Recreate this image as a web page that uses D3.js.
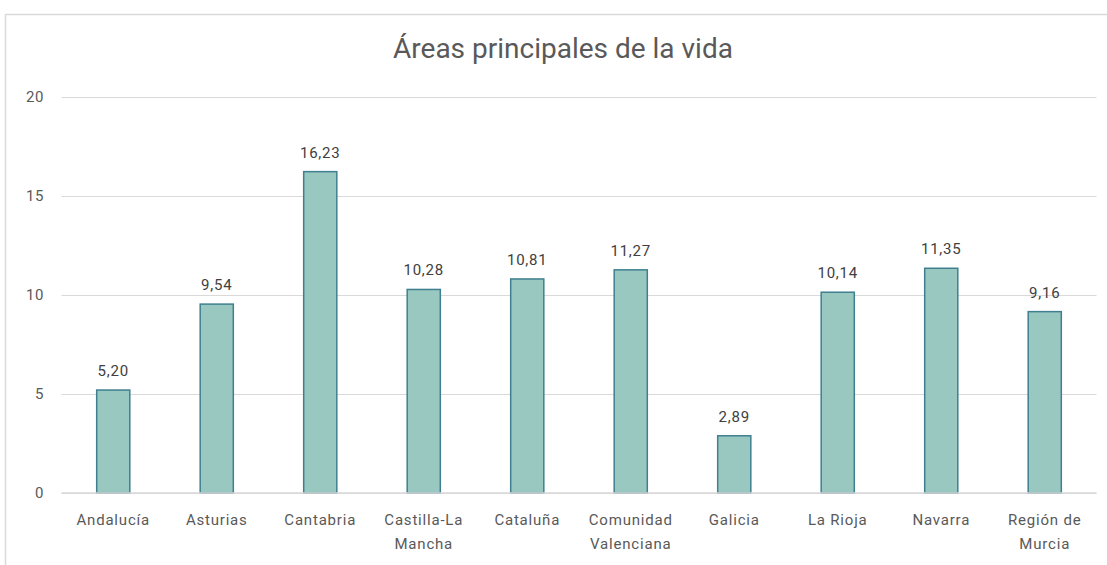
<!DOCTYPE html>
<html><head><meta charset="utf-8">
<script src="https://cdn.jsdelivr.net/npm/d3@7"></script>
<style>
body{margin:0;background:#fff;}
svg{display:block;}
.title{font-family:"Roboto","Liberation Sans",sans-serif;}
.lbl{font-family:"Roboto","Liberation Sans",sans-serif;}
</style></head>
<body><svg id="c" width="1107" height="565"></svg>
<script>
const categories = ["Andalucía","Asturias","Cantabria","Castilla-La Mancha","Cataluña","Comunidad Valenciana","Galicia","La Rioja","Navarra","Región de Murcia"];
const categoryLines = [["Andalucía"],["Asturias"],["Cantabria"],["Castilla-La","Mancha"],["Cataluña"],["Comunidad","Valenciana"],["Galicia"],["La Rioja"],["Navarra"],["Región de","Murcia"]];
const values = [5.20, 9.54, 16.23, 10.28, 10.81, 11.27, 2.89, 10.14, 11.35, 9.16];
const yTicks = [0, 5, 10, 15, 20];
const title = "Áreas principales de la vida";

const svg = d3.select("#c");
const W = 1107, H = 565;
const m = {left: 61.5, right: 1096.5, top: 97, bottom: 493};
const textColor = "#595959";

svg.append("rect").attr("x",5.5).attr("y",14.5).attr("width",W+10).attr("height",H+10)
  .attr("fill","#fff").attr("stroke","#d9d9d9").attr("stroke-width",1.5);

const x = d3.scaleBand().domain(categories).range([m.left, m.right]).paddingInner(0.68).paddingOuter(0.34);
const y = d3.scaleLinear().domain([0,20]).range([m.bottom, m.top]);

// grid
const grid = svg.append("g").attr("transform",`translate(${m.left},0)`)
  .call(d3.axisLeft(y).tickValues(yTicks).tickSize(-(m.right-m.left)).tickFormat(""));
grid.select(".domain").remove();
grid.selectAll("line").attr("stroke","#d9d9d9").attr("stroke-width",1);

// y labels
const ya = svg.append("g").attr("transform",`translate(44,0)`)
  .call(d3.axisLeft(y).tickValues(yTicks).tickSize(0).tickPadding(0).tickFormat(d3.format("d")));
ya.select(".domain").remove();
ya.selectAll("text").attr("class","lbl").attr("font-size",15).attr("letter-spacing",0.6)
  .attr("fill",textColor).attr("text-anchor","end");

// bars
svg.append("g").selectAll("rect").data(values).join("rect")
  .attr("x",(d,i)=>x(categories[i]))
  .attr("y",d=>y(d))
  .attr("width",x.bandwidth())
  .attr("height",d=>y(0)-y(d))
  .attr("fill","#98c8bf").attr("stroke","#3f7f90").attr("stroke-width",1.5);

// baseline
svg.append("line").attr("x1",m.left).attr("x2",m.right).attr("y1",y(0)).attr("y2",y(0))
  .attr("stroke","#d9d9d9").attr("stroke-width",1.5);

// value labels
const fmt = v => d3.format(".2f")(v).replace(".",",");
svg.append("g").selectAll("text").data(values).join("text")
  .attr("class","lbl")
  .attr("x",(d,i)=>x(categories[i])+x.bandwidth()/2)
  .attr("y",d=>y(d)-14)
  .attr("text-anchor","middle").attr("font-size",15).attr("letter-spacing",0.8).attr("fill","#404040")
  .text(fmt);

// category labels
const cg = svg.append("g").selectAll("text").data(categoryLines).join("text")
  .attr("class","lbl")
  .attr("x",(d,i)=>x(categories[i])+x.bandwidth()/2)
  .attr("y",525)
  .attr("text-anchor","middle").attr("font-size",15).attr("letter-spacing",0.8).attr("fill",textColor);
cg.each(function(lines,i){
  const t = d3.select(this);
  lines.forEach((l,j)=>t.append("tspan").attr("x",x(categories[i])+x.bandwidth()/2).attr("dy",j===0?0:24).text(l));
});

// title
svg.append("text").attr("class","title").attr("x",563).attr("y",58)
  .attr("text-anchor","middle").attr("font-size",28).attr("fill",textColor).text(title);
</script></body></html>
